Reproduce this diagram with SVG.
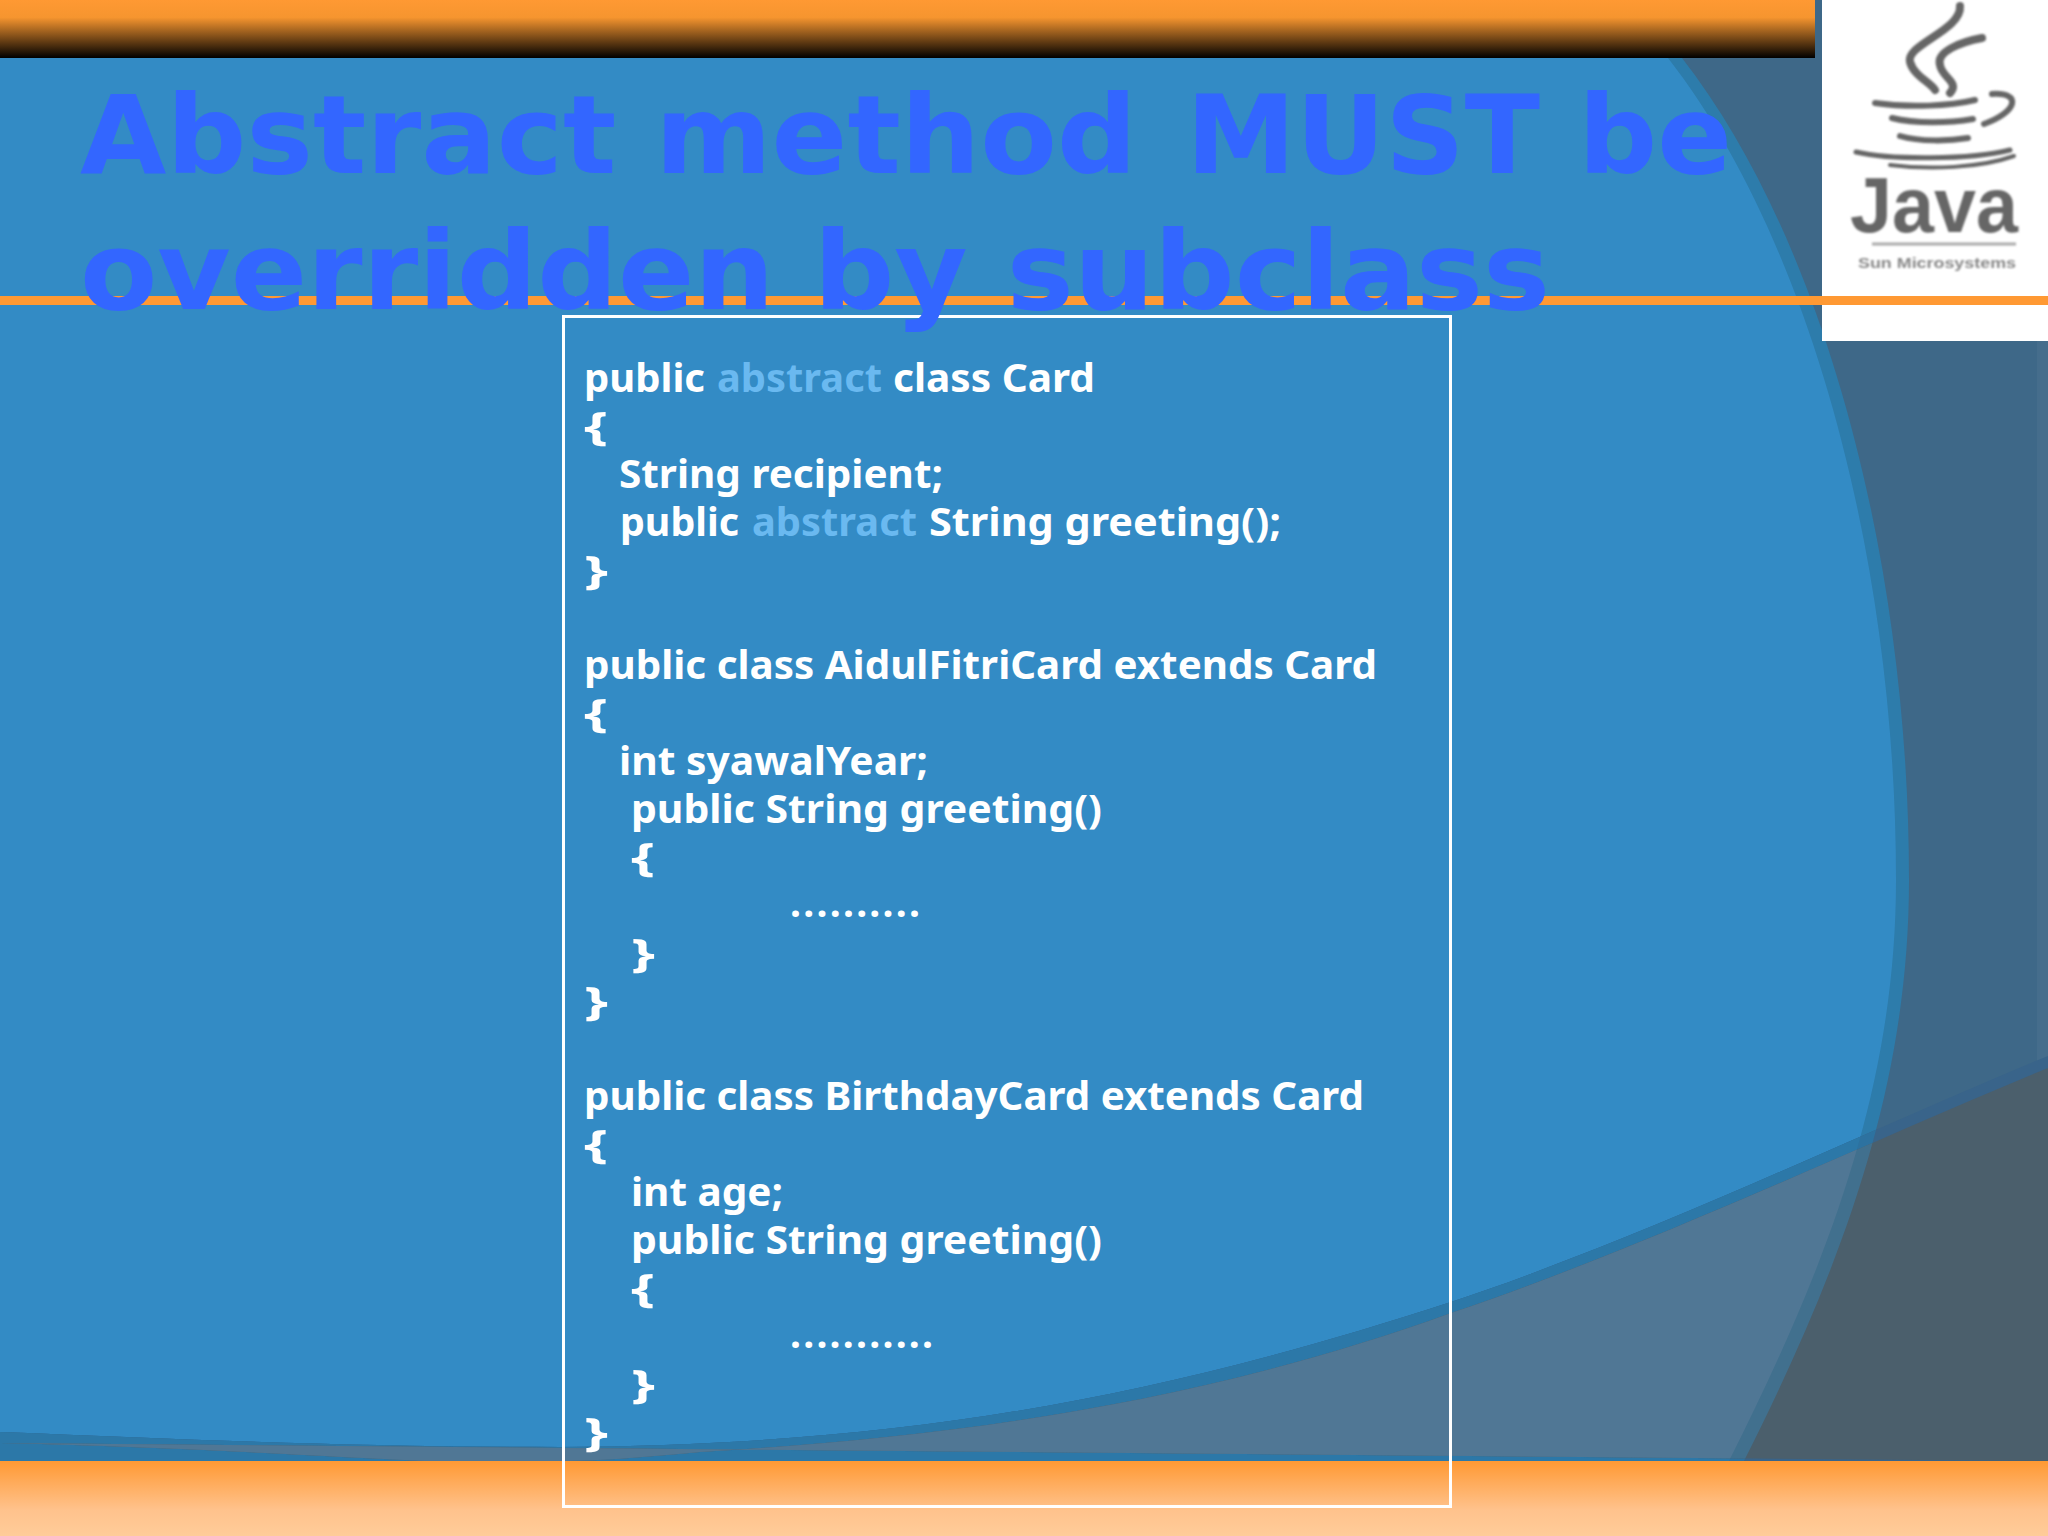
<svg xmlns="http://www.w3.org/2000/svg" width="2048" height="1536" viewBox="0 0 2048 1536">
<defs>
<style>
.c{font-family:"Noto Sans","Open Sans","DejaVu Sans",sans-serif;font-weight:700;font-size:39px;fill:#fff}
.k{fill:#6ab9f0}
.t{font-family:"DejaVu Sans","Liberation Sans",sans-serif;font-weight:700;font-size:109px;fill:#3366ff}
.s{fill:none;stroke:#666;stroke-linecap:round}
.j{font-family:"Liberation Sans",sans-serif;font-weight:700;fill:#666}
</style>
<linearGradient id="top" x1="0" y1="0" x2="0" y2="1"><stop offset="0" stop-color="#ff9933"/><stop offset=".3" stop-color="#f6952f"/><stop offset="1" stop-color="#000"/></linearGradient>
<linearGradient id="bot" x1="0" y1="0" x2="0" y2="1"><stop offset="0" stop-color="#ff9933"/><stop offset=".65" stop-color="#ffc28c"/><stop offset="1" stop-color="#ffcc99"/></linearGradient>
<filter id="blur" x="-5%" y="-5%" width="110%" height="110%"><feGaussianBlur stdDeviation="0.9"/></filter>
<clipPath id="inner"><path d="M0 0H1640L1668 58C1810 240 1896 560 1896 880C1896 1090 1825 1270 1729 1461H0Z"/></clipPath>
<clipPath id="mid"><path d="M0 0H1654L1682 58C1824 240 1909 560 1909 880C1909 1090 1840 1270 1744 1461H0Z"/></clipPath>
<path id="w1" d="M0 1432C200 1440 350 1447 560 1447C900 1445 1150 1400 1451 1302C1650 1236 1868 1130 2048 1056V1461H0Z"/>
<path id="w2" d="M0 1443C150 1446 300 1455 424 1461H560C600 1461 660 1456 700 1452C900 1440 1170 1415 1451 1313C1650 1246 1868 1142 2048 1068V1461Z"/>
</defs>
<g id="background">
<rect width="2048" height="1536" fill="#3e6888"/>
<rect x="2037" y="340" width="11" height="1121" fill="#fff" opacity=".04"/>
<rect width="2048" height="1536" fill="#2d7cab" clip-path="url(#mid)"/>
<rect width="2048" height="1536" fill="#338bc5" clip-path="url(#inner)"/>
<use href="#w1" fill="#39648a"/>
<use href="#w1" fill="#2d72a0" clip-path="url(#mid)"/>
<use href="#w1" fill="#2c78a8" clip-path="url(#inner)"/>
<use href="#w2" fill="#4b5f6c"/>
<use href="#w2" fill="#41708e" clip-path="url(#mid)"/>
<use href="#w2" fill="#507795" clip-path="url(#inner)"/>
</g>
<g id="header">
<rect x="0" y="0" width="1815" height="58" fill="url(#top)"/>
<rect x="0" y="1461" width="2048" height="75" fill="url(#bot)"/>
</g>
<g id="logo">
<rect x="1822" y="0" width="226" height="341" fill="#fff"/>
<g filter="url(#blur)">
<path class="s" stroke-width="8" d="M1960 6C1962 30 1905 45 1910 62C1914 76 1930 82 1935 90"/>
<path class="s" stroke-width="8" d="M1982 38C1960 42 1936 52 1940 65C1942 78 1960 82 1950 93"/>
<path class="s" stroke-width="6" d="M1875 103C1910 108 1950 106 1975 100"/>
<path class="s" stroke-width="6" d="M1992 94C2022 92 2018 112 1984 124"/>
<path class="s" stroke-width="6" d="M1892 118C1915 124 1950 123 1973 119"/>
<path class="s" stroke-width="6" d="M1900 136C1920 142 1950 141 1968 138"/>
<path class="s" stroke-width="5" d="M1856 152C1890 160 1970 160 2010 150"/>
<path class="s" stroke-width="4" d="M1890 165C1930 170 1980 168 2014 156"/>
<text class="j" x="1850" y="232" font-size="78" textLength="168" lengthAdjust="spacingAndGlyphs">Java</text>
<path d="M1872 244H2016" stroke="#aaa" stroke-width="3"/>
<text x="1858" y="268" font-family="Liberation Sans, sans-serif" font-size="14" font-weight="700" fill="#888" textLength="158" lengthAdjust="spacingAndGlyphs">Sun Microsystems</text>
</g>
</g>
<rect id="rule" x="0" y="296" width="2048" height="9" fill="#ff9933"/>
<g id="code">
<rect x="563.500" y="316.500" width="887" height="1190" fill="none" stroke="#fff" stroke-width="3"/>
<text class="c" x="584" y="392" textLength="121" lengthAdjust="spacingAndGlyphs">public</text>
<text class="c k" x="717" y="392" textLength="165" lengthAdjust="spacingAndGlyphs">abstract</text>
<text class="c" x="893" y="392" textLength="202" lengthAdjust="spacingAndGlyphs">class Card</text>
<text class="c" x="584" y="440" textLength="24" lengthAdjust="spacingAndGlyphs">{</text>
<text class="c" x="619" y="488" textLength="324" lengthAdjust="spacingAndGlyphs">String recipient;</text>
<text class="c" x="620" y="536" textLength="119" lengthAdjust="spacingAndGlyphs">public</text>
<text class="c k" x="752" y="536" textLength="165" lengthAdjust="spacingAndGlyphs">abstract</text>
<text class="c" x="929" y="536" textLength="352" lengthAdjust="spacingAndGlyphs">String greeting();</text>
<text class="c" x="584" y="584" textLength="24" lengthAdjust="spacingAndGlyphs">}</text>
<text class="c" x="584" y="679" textLength="793" lengthAdjust="spacingAndGlyphs">public class AidulFitriCard extends Card</text>
<text class="c" x="584" y="727" textLength="24" lengthAdjust="spacingAndGlyphs">{</text>
<text class="c" x="619" y="775" textLength="309" lengthAdjust="spacingAndGlyphs">int syawalYear;</text>
<text class="c" x="631" y="823" textLength="471" lengthAdjust="spacingAndGlyphs">public String greeting()</text>
<text class="c" x="631" y="871" textLength="24" lengthAdjust="spacingAndGlyphs">{</text>
<text class="c" x="790" y="917" textLength="130" lengthAdjust="spacing">..........</text>
<text class="c" x="631" y="967" textLength="24" lengthAdjust="spacingAndGlyphs">}</text>
<text class="c" x="584" y="1015" textLength="24" lengthAdjust="spacingAndGlyphs">}</text>
<text class="c" x="584" y="1110" textLength="780" lengthAdjust="spacingAndGlyphs">public class BirthdayCard extends Card</text>
<text class="c" x="584" y="1158" textLength="24" lengthAdjust="spacingAndGlyphs">{</text>
<text class="c" x="631" y="1206" textLength="152" lengthAdjust="spacingAndGlyphs">int age;</text>
<text class="c" x="631" y="1254" textLength="471" lengthAdjust="spacingAndGlyphs">public String greeting()</text>
<text class="c" x="631" y="1302" textLength="24" lengthAdjust="spacingAndGlyphs">{</text>
<text class="c" x="790" y="1348" textLength="143" lengthAdjust="spacing">...........</text>
<text class="c" x="631" y="1398" textLength="24" lengthAdjust="spacingAndGlyphs">}</text>
<text class="c" x="584" y="1446" textLength="24" lengthAdjust="spacingAndGlyphs">}</text>
</g>
<g id="title">
<text class="t" x="80" y="173"><tspan x="80" textLength="1057" lengthAdjust="spacingAndGlyphs">Abstract method</tspan> <tspan x="1186" textLength="546" lengthAdjust="spacingAndGlyphs">MUST be</tspan></text>
<text class="t" x="80" y="309" textLength="1470" lengthAdjust="spacingAndGlyphs">overridden by subclass</text>
</g>
</svg>
